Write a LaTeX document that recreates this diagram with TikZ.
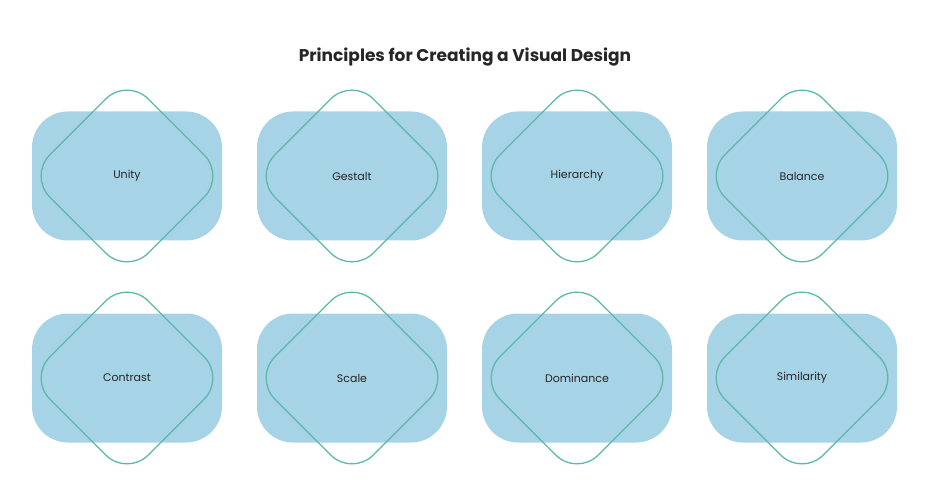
\documentclass[tikz,border=0pt]{standalone}
\usepackage{fontspec}
\setmainfont{Poppins}
\usetikzlibrary{positioning}
\definecolor{cardblue}{HTML}{A6D3E6}
\definecolor{lineteal}{HTML}{5DB8AA}
\begin{document}
\begin{tikzpicture}[x=1pt,y=-1pt,
      card/.style={fill=cardblue,rounded corners=36pt,minimum width=190pt,minimum height=129pt,inner sep=0pt},
      rhomb/.style={draw=lineteal,line width=1.3pt,rounded corners=30pt,minimum size=139pt,rotate=45,inner sep=0pt},
      label/.style={font=\fontsize{11}{13}\selectfont,text=black!85}]
    \useasboundingbox (0,0) rectangle (930,500);
      \node[font=\fontsize{17}{20}\selectfont\bfseries,text=black!85] (title) at (465,57) {Principles for Creating a Visual Design};

      \foreach \name/\x/\y/\txt in {unity/127/176/Unity,gestalt/352/176/Gestalt,hierarchy/577/176/Hierarchy,balance/802/176/Balance,
	  contrast/127/378/Contrast,scale/352/378/Scale,dominance/577/378/Dominance,similarity/802/378/Similarity}
	{
      \node[card] (\name) at (\x,\y) {};
      \node[rhomb] (\name-r) at (\x,\y) {};
      \node[label] (\name-t) at (\x,\y) {\txt};
	}
    \end{tikzpicture}
\end{document}
